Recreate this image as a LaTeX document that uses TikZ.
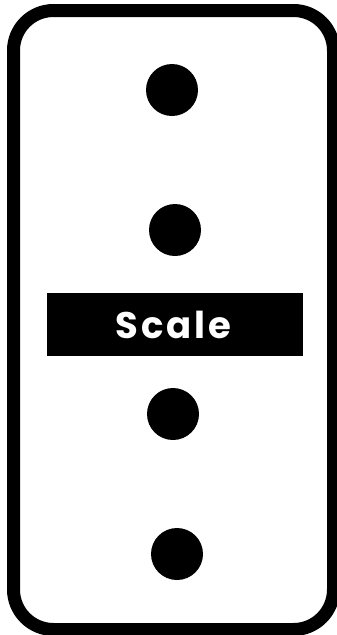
\documentclass[tikz,border=0pt]{standalone}
\usepackage{fontspec}
\newfontfamily\labelfont[LetterSpace=8]{Poppins}
\usetikzlibrary{positioning}

\begin{document}
\begin{tikzpicture}[
    x=1pt, y=-1pt,
    frame/.style={rectangle, rounded corners=40pt, draw=black,
                  line width=13pt, minimum width=320pt,
                  minimum height=619pt, inner sep=0pt},
    dot/.style={circle, fill=black, minimum size=52pt, inner sep=0pt},
    bar/.style={rectangle, fill=black, minimum width=256pt,
                minimum height=63pt, inner sep=0pt, text=white,
                font=\labelfont\bfseries\fontsize{37}{37}\selectfont},
    ]

    \useasboundingbox (0,0) rectangle (337,635);

    \node[frame] (box) at (173.5,320) {};

    \node[dot] (dotA) at (172,90) {};
    \node[dot] (dotB) at (175,230) {};
    \node[bar] (scale) at (175,324.5) {\hspace*{-3pt}Scale};
    \node[dot] (dotC) at (173,414) {};
    \node[dot] (dotD) at (177,554) {};

\end{tikzpicture}
\end{document}
